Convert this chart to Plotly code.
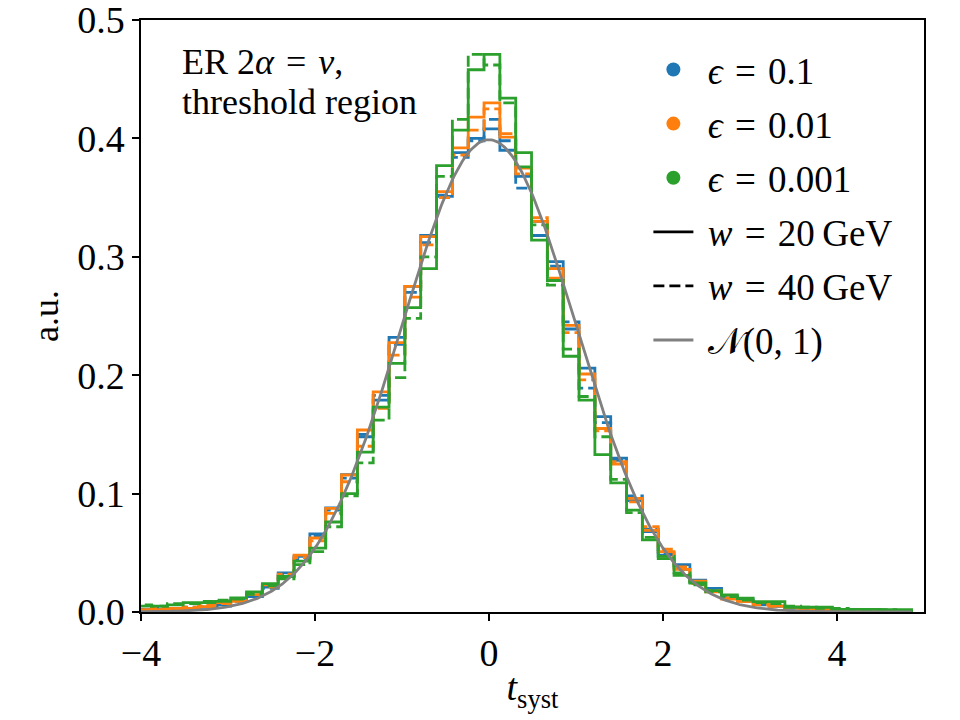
import numpy as np
import plotly.graph_objects as go

# ---- data ----
BIN_START = -4.243
BIN_WIDTH = 0.182
N_BINS = 50

BLUE_W20 = [0.002, 0.002, 0.002, 0.003, 0.003, 0.004, 0.006, 0.010, 0.013, 0.021,
            0.033, 0.047, 0.066, 0.088, 0.116, 0.148, 0.179, 0.232, 0.275, 0.318,
            0.351, 0.388, 0.400, 0.408, 0.390, 0.368, 0.318, 0.296, 0.239, 0.206,
            0.165, 0.130, 0.094, 0.068, 0.048, 0.040, 0.027, 0.020, 0.012, 0.010,
            0.007, 0.005, 0.004, 0.003, 0.002, 0.002, 0.001, 0.001, 0.001, 0.001]
BLUE_W40 = [0.001, 0.002, 0.003, 0.002, 0.004, 0.005, 0.005, 0.009, 0.014, 0.020,
            0.031, 0.045, 0.064, 0.086, 0.113, 0.150, 0.183, 0.226, 0.270, 0.312,
            0.352, 0.384, 0.398, 0.416, 0.398, 0.358, 0.330, 0.292, 0.245, 0.189,
            0.160, 0.128, 0.098, 0.070, 0.050, 0.036, 0.025, 0.018, 0.013, 0.009,
            0.006, 0.005, 0.003, 0.003, 0.002, 0.001, 0.001, 0.001, 0.000, 0.000]
ORANGE_W20 = [0.001, 0.002, 0.002, 0.003, 0.003, 0.0045, 0.008, 0.009, 0.0146, 0.023,
              0.030, 0.048, 0.0625, 0.0876, 0.1157, 0.1537, 0.186, 0.2275, 0.275, 0.317,
              0.355, 0.392, 0.418, 0.430, 0.401, 0.375, 0.330, 0.290, 0.242, 0.201,
              0.155, 0.125, 0.096, 0.069, 0.051, 0.036, 0.026, 0.017, 0.011, 0.009,
              0.008, 0.005, 0.004, 0.003, 0.002, 0.002, 0.001, 0.001, 0.001, 0.001]
ORANGE_W40 = [0.002, 0.001, 0.003, 0.003, 0.004, 0.006, 0.007, 0.011, 0.016, 0.021,
              0.032, 0.046, 0.060, 0.0833, 0.110, 0.140, 0.172, 0.217, 0.266, 0.310,
              0.350, 0.386, 0.407, 0.425, 0.404, 0.370, 0.333, 0.282, 0.236, 0.196,
              0.153, 0.127, 0.093, 0.072, 0.053, 0.038, 0.024, 0.018, 0.012, 0.009,
              0.006, 0.005, 0.003, 0.002, 0.002, 0.001, 0.001, 0.001, 0.000, 0.000]
GREEN_W20 = [0.005, 0.005, 0.005, 0.006, 0.008, 0.008, 0.009, 0.012, 0.017, 0.024,
             0.030, 0.043, 0.054, 0.076, 0.100, 0.135, 0.173, 0.210, 0.257, 0.290,
             0.377, 0.407, 0.458, 0.471, 0.434, 0.388, 0.314, 0.280, 0.216, 0.179,
             0.133, 0.109, 0.086, 0.061, 0.045, 0.031, 0.0245, 0.018, 0.0144, 0.0116,
             0.0087, 0.0087, 0.004, 0.004, 0.004, 0.0023, 0.0023, 0.0023, 0.002, 0.002]
GREEN_W40 = [0.004, 0.006, 0.005, 0.007, 0.007, 0.009, 0.010, 0.011, 0.015, 0.022,
             0.028, 0.040, 0.051, 0.072, 0.098, 0.126, 0.162, 0.198, 0.248, 0.300,
             0.368, 0.416, 0.471, 0.462, 0.430, 0.376, 0.327, 0.276, 0.222, 0.182,
             0.148, 0.112, 0.084, 0.063, 0.047, 0.033, 0.023, 0.017, 0.013, 0.010,
             0.008, 0.007, 0.005, 0.004, 0.003, 0.003, 0.002, 0.002, 0.002, 0.001]

EPS_LABELS = ["0.1", "0.01", "0.001"]
X_TICKS = [-4, -2, 0, 2, 4]
Y_TICKS = [0.0, 0.1, 0.2, 0.3, 0.4, 0.5]

# ---- styling ----
COLORS = ["#1f77b4", "#ff7f0e", "#2ca02c"]
FONT = "Liberation Serif, Times New Roman, serif"
LW = 2.8
DASH = "11px,5px"
SP = "\u2004"  # wider space around '=' like mathtext
LEAD = "\u00a0"

edges = BIN_START + BIN_WIDTH * np.arange(N_BINS + 1)


def step_xy(heights):
    h = list(heights)
    xs = [edges[0]] + list(edges[:-1]) + [edges[-1]]
    ys = [0.0] + h + [0.0]
    return xs, ys


fig = go.Figure()
series = [(BLUE_W20, BLUE_W40), (ORANGE_W20, ORANGE_W40), (GREEN_W20, GREEN_W40)]
for color, (s20, s40) in zip(COLORS, series):
    for vals, dash in ((s20, "solid"), (s40, DASH)):
        xs, ys = step_xy(vals)
        fig.add_trace(go.Scatter(x=xs, y=ys, mode="lines", line_shape="hv",
                                 line=dict(color=color, width=LW, dash=dash),
                                 showlegend=False, hoverinfo="skip"))

# standard normal pdf
xg = np.linspace(edges[0], edges[-1], 600)
yg = np.exp(-0.5 * xg ** 2) / np.sqrt(2 * np.pi)
fig.add_trace(go.Scatter(x=xg, y=yg, mode="lines", line=dict(color="#808080", width=LW),
                         showlegend=False, hoverinfo="skip"))

# legend entries
for i, (color, lab) in enumerate(zip(COLORS, EPS_LABELS)):
    fig.add_trace(go.Scatter(x=[None], y=[None], mode="markers",
                             marker=dict(color=color, size=14),
                             name=f"{LEAD}<i>ϵ</i>{SP}={SP}{lab}", legendgroup=f"g{i}"))
fig.add_trace(go.Scatter(x=[None], y=[None], mode="lines", line=dict(color="black", width=LW),
                         name=f"{LEAD}<i>w</i>{SP}={SP}20\u2009GeV", legendgroup="g3"))
fig.add_trace(go.Scatter(x=[None], y=[None], mode="lines",
                         line=dict(color="black", width=LW, dash=DASH),
                         name=f"{LEAD}<i>w</i>{SP}={SP}40\u2009GeV", legendgroup="g4"))
fig.add_trace(go.Scatter(x=[None], y=[None], mode="lines", line=dict(color="#808080", width=LW),
                         name=f"{LEAD}𝒩(0, 1)", legendgroup="g5"))

axis_common = dict(showline=True, linecolor="black", linewidth=1.5, mirror=True,
                   ticks="outside", ticklen=7, tickwidth=1.5, tickcolor="black",
                   showgrid=False, zeroline=False, ticklabeloverflow="allow",
                   automargin=False,
                   tickfont=dict(family=FONT, size=38, color="black"))

fig.update_layout(
    width=960, height=720,
    margin=dict(l=141, r=36, t=20, b=108),
    plot_bgcolor="white", paper_bgcolor="white",
    font=dict(family=FONT, color="black"),
    xaxis=dict(range=[-4, 5], tickvals=X_TICKS,
               title=dict(text="<i>t</i><sub>syst</sub>", font=dict(size=38), standoff=0),
               **axis_common),
    yaxis=dict(range=[0, 0.5], tickvals=Y_TICKS, tickformat=".1f",
               title=dict(text="a.u.", font=dict(size=36), standoff=8),
               **axis_common),
    legend=dict(x=0.648, y=0.968, xanchor="left", yanchor="top",
                font=dict(family=FONT, size=37), bgcolor="rgba(255,255,255,0)",
                tracegroupgap=3, itemwidth=40),
    annotations=[
        dict(text=f"ER 2<i>α</i>{SP}={SP}<i>ν</i>,", xref="paper", yref="paper", x=0.05, y=0.929,
             xanchor="left", yanchor="middle", showarrow=False, font=dict(size=36)),
        dict(text="threshold region", xref="paper", yref="paper", x=0.05, y=0.861,
             xanchor="left", yanchor="middle", showarrow=False, font=dict(size=36)),
    ],
)

fig.write_html("out.html")
